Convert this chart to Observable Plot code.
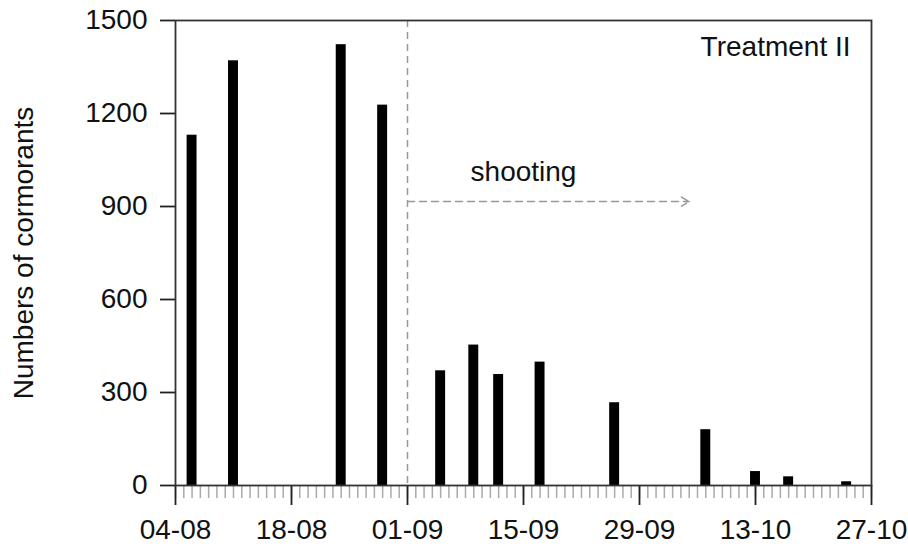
<!DOCTYPE html>
<html>
<head>
<meta charset="utf-8">
<script src="https://cdn.jsdelivr.net/npm/d3@7"></script>
<script src="https://cdn.jsdelivr.net/npm/@observablehq/plot@0.6"></script>
<style>
  body { margin: 0; background: white; }
  #chart svg { display: block; }
</style>
</head>
<body>
<div id="chart"></div>
<script>
const YEAR = 2008;
// Count dates (dd-mm) and numbers of cormorants
const countDates = ["06-08","11-08","24-08","29-08","05-09","09-09","12-09","17-09","26-09","07-10","13-10","17-10","24-10"];
const countValues = [1130, 1370, 1422, 1227, 370, 453, 358, 398, 267, 180, 45, 28, 12];
// Axis tick labels
const xTickLabels = ["04-08","18-08","01-09","15-09","29-09","13-10","27-10"];
const yTickValues = [0, 300, 600, 900, 1200, 1500];
// Annotation
const shootingStart = "01-09";
const shootingArrowEnd = "05-10";
const shootingArrowLevel = 916;
const shootingLabel = "shooting";
const shootingLabelDate = "15-09";
const shootingLabelLevel = 1010;
const panelLabel = "Treatment II";
const yLabel = "Numbers of cormorants";

const parse = s => d3.utcParse("%d-%m-%Y")(s + "-" + YEAR);
const DAY = 864e5;
const bars = countDates.map((d, i) => ({date: parse(d), count: countValues[i]}));
const xTicks = xTickLabels.map(parse);
const xDomain = [xTicks[0], xTicks[xTicks.length - 1]];
const minorTicks = d3.utcDays(xDomain[0], new Date(+xDomain[1] + DAY));
const fmt = d3.utcFormat("%d-%m");
const FS = 28;

const chart = Plot.plot({
  width: 908,
  height: 550,
  marginLeft: 175,
  marginRight: 37,
  marginTop: 20,
  marginBottom: 65,
  style: {fontFamily: "'Liberation Sans', Arial, sans-serif", fontSize: FS + "px", color: "#111", background: "white"},
  x: {type: "utc", domain: xDomain},
  y: {domain: [0, 1500]},
  marks: [
    Plot.ruleX([parse(shootingStart)], {stroke: "#999", strokeWidth: 1.5, strokeDasharray: "7,5"}),
    Plot.arrow([{x1: parse(shootingStart), x2: parse(shootingArrowEnd), y: shootingArrowLevel}],
      {x1: "x1", x2: "x2", y1: "y", y2: "y", stroke: "#999", strokeWidth: 1.5, strokeDasharray: "7,5", headLength: 9, bend: false}),
    Plot.text([shootingLabel], {x: parse(shootingLabelDate), y: shootingLabelLevel, text: d => d, fontSize: FS, fill: "#111"}),
    Plot.rectY(bars, {x1: d => new Date(+d.date - 0.6 * DAY), x2: d => new Date(+d.date + 0.6 * DAY), y: "count", fill: "black"}),
    Plot.axisX(minorTicks, {tickSize: 13, stroke: "#aaa", strokeWidth: 1.5, text: null}),
    Plot.axisX(xTicks, {tickSize: 20, tickPadding: 14, strokeWidth: 1.8, stroke: "#222", tickFormat: fmt, fontSize: FS, label: null}),
    Plot.axisY(yTickValues, {tickSize: 15, tickPadding: 13, strokeWidth: 1.8, stroke: "#222", fontSize: FS, tickFormat: "d",
      label: yLabel, labelAnchor: "center", labelOffset: 162, labelArrow: "none"}),
    Plot.frame({stroke: "#333", strokeWidth: 1.8}),
    Plot.text([panelLabel], {frameAnchor: "top-right", text: d => d, dx: -21, dy: 27, textAnchor: "end", lineAnchor: "middle", fontSize: FS, fill: "#111"})
  ]
});
document.getElementById("chart").appendChild(chart);
</script>
</body>
</html>
